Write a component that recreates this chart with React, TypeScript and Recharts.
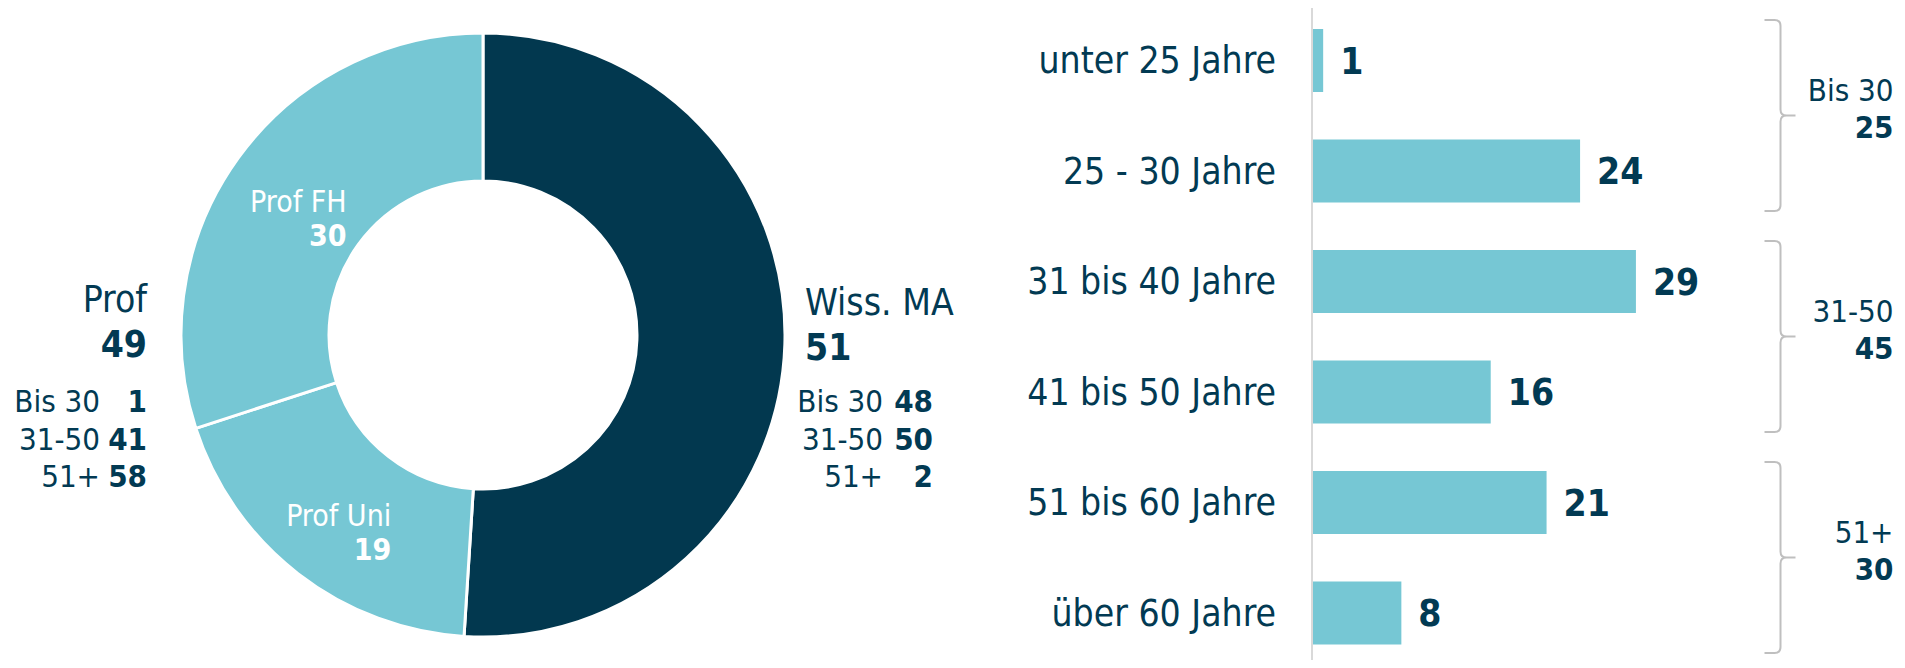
import { PieChart, Pie, Cell, BarChart, Bar, XAxis, YAxis, LabelList, ReferenceArea } from "recharts";

const groups = ["Wiss. MA", "Prof Uni", "Prof FH"];
const groupShares = [51, 19, 30];
const profTotal = 49;
const wissTotal = 51;
const ageBands = ["Bis 30", "31-50", "51+"];
const profByAge = [1, 41, 58];
const wissByAge = [48, 50, 2];

const ageLabels = ["unter 25 Jahre", "25 - 30 Jahre", "31 bis 40 Jahre", "41 bis 50 Jahre", "51 bis 60 Jahre", "über 60 Jahre"];
const ageValues = [1, 24, 29, 16, 21, 8];
const bracketLabels = ["Bis 30", "31-50", "51+"];
const bracketValues = [25, 45, 30];
const bracketRanges = [[0, 1], [2, 3], [4, 5]];

const DARK = "#023a53";
const NAVY = "#02384f";
const LIGHT = "#76c7d4";
const FONT = "'DejaVu Sans Condensed', 'DejaVu Sans', sans-serif";
const RAD = Math.PI / 180;
const SMALL = 31;
const BIG = 37;

const pieData = groups.map((name, i) => ({ name, value: groupShares[i] }));
const barData = ageLabels.map((label, i) => ({ label, value: ageValues[i] }));

const insideLabel = (p: any) => {
  if (p.index === 0) return null;
  const r = (p.innerRadius + p.outerRadius) / 2;
  const x = p.cx + r * Math.cos(-p.midAngle * RAD) + 48;
  const y = p.cy + r * Math.sin(-p.midAngle * RAD);
  return (
    <g>
      <text x={x} y={y + 11} textAnchor="end" fill="#fff" fontSize={30}>{p.name}</text>
      <text x={x} y={y + 45} textAnchor="end" fill="#fff" fontSize={30} fontWeight="bold">{p.value}</text>
    </g>
  );
};

const Bracket = (p: any) => {
  const right = p.x + p.width;
  const vx = right - 90;
  const hl = vx - 16;
  const tip = vx + 15;
  const top = p.y + 15;
  const bottom = p.y + p.height - 15;
  const mid = (top + bottom) / 2;
  const d = `M${hl},${top} L${vx - 6},${top} Q${vx},${top} ${vx},${top + 6} L${vx},${mid - 6} Q${vx},${mid} ${vx + 6},${mid} L${tip},${mid}
    M${vx + 6},${mid} Q${vx},${mid} ${vx},${mid + 6} L${vx},${bottom - 6} Q${vx},${bottom} ${vx - 6},${bottom} L${hl},${bottom}`;
  return (
    <g>
      <path d={d} fill="none" stroke="#bfbfbf" strokeWidth={2} />
      <text x={right + 23} y={mid - 15} textAnchor="end" fill={DARK} fontSize={SMALL}>{p.label}</text>
      <text x={right + 23} y={mid + 22} textAnchor="end" fill={DARK} fontSize={SMALL} fontWeight="bold">{p.total}</text>
    </g>
  );
};

const AgeTick = ({ x, y, payload }: any) => (
  <text x={x} y={y} dy="0.355em" textAnchor="end" fill={DARK} fontSize={BIG}>{payload.value}</text>
);

const rowY = [412, 450, 487];

export default function App() {
  return (
    <div style={{ position: "relative", width: 1905, height: 668, margin: -8, fontFamily: FONT, background: "#fff" }}>
      <div style={{ position: "absolute", left: 0, top: 0 }}>
        <PieChart width={1000} height={668} margin={{ top: 0, right: 0, bottom: 0, left: 0 }}>
          <Pie
            data={pieData}
            dataKey="value"
            cx={483}
            cy={335}
            innerRadius={154}
            outerRadius={302}
            startAngle={90}
            endAngle={-270}
            stroke="#fff"
            strokeWidth={3}
            label={insideLabel}
            labelLine={false}
            isAnimationActive={false}
          >
            {pieData.map((_, i) => (
              <Cell key={i} fill={i === 0 ? NAVY : LIGHT} />
            ))}
          </Pie>
        </PieChart>
      </div>

      <svg width={1000} height={668} style={{ position: "absolute", left: 0, top: 0, pointerEvents: "none" }}>
        <text x={147} y={312} textAnchor="end" fill={DARK} fontSize={BIG}>Prof</text>
        <text x={147} y={357} textAnchor="end" fill={DARK} fontSize={BIG} fontWeight="bold">{profTotal}</text>
        {ageBands.map((b, i) => (
          <g key={"p" + i}>
            <text x={100} y={rowY[i]} textAnchor="end" fill={DARK} fontSize={SMALL}>{b}</text>
            <text x={147} y={rowY[i]} textAnchor="end" fill={DARK} fontSize={SMALL} fontWeight="bold">{profByAge[i]}</text>
          </g>
        ))}
        <text x={805} y={315} fill={DARK} fontSize={BIG}>Wiss. MA</text>
        <text x={805} y={360} fill={DARK} fontSize={BIG} fontWeight="bold">{wissTotal}</text>
        {ageBands.map((b, i) => (
          <g key={"w" + i}>
            <text x={883} y={rowY[i]} textAnchor="end" fill={DARK} fontSize={SMALL}>{b}</text>
            <text x={933} y={rowY[i]} textAnchor="end" fill={DARK} fontSize={SMALL} fontWeight="bold">{wissByAge[i]}</text>
          </g>
        ))}
      </svg>

      <div style={{ position: "absolute", left: 1000, top: 0 }}>
        <BarChart
          width={905}
          height={668}
          data={barData}
          layout="vertical"
          margin={{ top: 5, right: 34.5, bottom: 0, left: 0 }}
        >
          <XAxis type="number" domain={[0, 50]} hide />
          <YAxis
            type="category"
            dataKey="label"
            width={312}
            axisLine={{ stroke: "#d9d9d9", strokeWidth: 2 }}
            tickLine={false}
            tickSize={0}
            tickMargin={36}
            tick={<AgeTick />}
            interval={0}
          />
          <Bar dataKey="value" fill={LIGHT} barSize={63} isAnimationActive={false}>
            <LabelList dataKey="value" position="right" offset={17} fill={DARK} fontSize={BIG} fontWeight="bold" />
          </Bar>
          {bracketRanges.map(([a, b], i) => (
            <ReferenceArea
              key={i}
              x1={0}
              x2={50}
              y1={ageLabels[a]}
              y2={ageLabels[b]}
              ifOverflow="visible"
              shape={(p: any) => <Bracket {...p} label={bracketLabels[i]} total={bracketValues[i]} />}
            />
          ))}
        </BarChart>
      </div>
    </div>
  );
}
